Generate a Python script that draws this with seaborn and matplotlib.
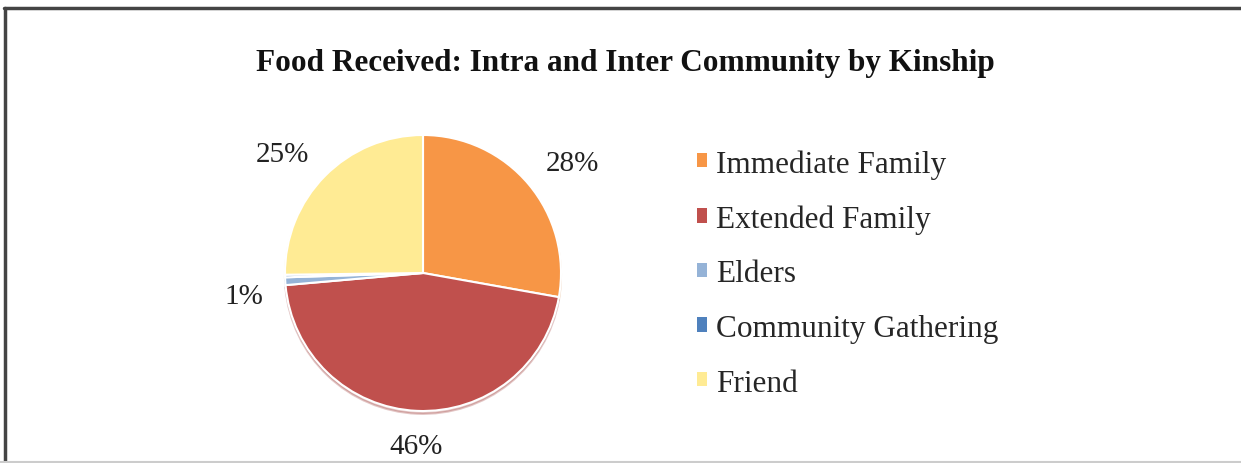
import matplotlib
matplotlib.use('Agg')
import numpy as np
import matplotlib.pyplot as plt
from matplotlib.patches import Patch
from matplotlib.lines import Line2D
import seaborn as sns

# data
categories = ['Immediate Family', 'Extended Family', 'Elders', 'Community Gathering', 'Friend']
shares = [27.8, 45.8, 0.9, 0.3, 25.2]
colors = ['#F79646', '#C0504D', '#95B3D7', '#4F81BD', '#FFEB94']
title = 'Food Received: Intra and Inter Community by Kinship'

sns.set_theme(style='white')
plt.rcParams['font.family'] = ['Liberation Serif', 'DejaVu Serif']

fig = plt.figure(figsize=(12.41, 4.64), dpi=100)

# pie axes: centre (423, 274) px, radius ~138 px, pie limits are +-1.25
r_px = 138
side = 2.5 * r_px
ax = fig.add_axes([(423 - side / 2) / 1241, (464 - 274 - side / 2) / 464, side / 1241, side / 464])


def pct_label(p):
    return '%.0f%%' % p if p >= 0.5 else ''


wedges, texts, autotexts = ax.pie(
    shares, colors=sns.color_palette(colors), startangle=90, counterclock=False,
    autopct=pct_label, pctdistance=1.3,
    wedgeprops=dict(edgecolor='white', linewidth=1.5),
    textprops=dict(fontsize=21, color='#222222'),
    shadow=dict(ox=0.0, oy=-0.015, shade=0.15, alpha=0.3),
)
ax.set_xlim(-1.25, 1.25)
ax.set_ylim(-1.25, 1.25)

# excel style: label box sits just outside the rim, anchored on the side facing the pie
for w, t in zip(wedges, autotexts):
    mid = np.deg2rad((w.theta1 + w.theta2) / 2)
    c, s = np.cos(mid), np.sin(mid)
    t.set_position((1.16 * c, 1.16 * s))
    t.set_ha('center' if abs(c) < 0.3 else ('left' if c > 0 else 'right'))
    t.set_va('baseline' if s > 0 else 'top')

fig.text(0.504, 1 - 63 / 464, title, ha='center', va='center',
         fontsize=22.5, fontweight='bold', color='#111111')

handles = [Patch(facecolor=c, edgecolor='none') for c in colors]
fig.legend(handles, categories, loc='upper left', bbox_to_anchor=(697 / 1241, 1 - 150 / 464),
           frameon=False, fontsize=22.5, handlelength=0.33, handleheight=0.33,
           handletextpad=0.27, labelspacing=0.82, borderpad=0, borderaxespad=0)

# frame lines along top and left edge like the source screenshot
fig.add_artist(Line2D([4 / 1241, 1], [1 - 9 / 464, 1 - 9 / 464], transform=fig.transFigure,
                      color='#444444', linewidth=2.5))
fig.add_artist(Line2D([5 / 1241, 5 / 1241], [0, 1 - 9 / 464], transform=fig.transFigure,
                      color='#444444', linewidth=2.5))
fig.add_artist(Line2D([0, 1], [1.5 / 464, 1.5 / 464], transform=fig.transFigure,
                      color='#cccccc', linewidth=1.5))

fig.savefig('out.png', dpi=100)
